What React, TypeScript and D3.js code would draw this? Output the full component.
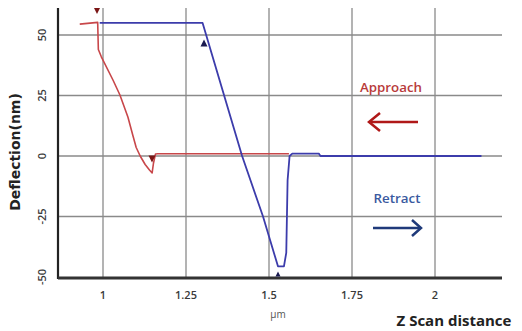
import React from "react";
import * as d3 from "d3";

const xTicks = [1, 1.25, 1.5, 1.75, 2];
const xTickLabels = ["1", "1.25", "1.5", "1.75", "2"];
const yTicks = [-50, -25, 0, 25, 50];
const yTickLabels = ["-50", "-25", "0", "25", "50"];

const approachX = [0.93, 0.984, 0.986, 0.995, 1.03, 1.051, 1.075, 1.09, 1.1, 1.112, 1.127, 1.14, 1.148, 1.152, 1.158, 1.165, 1.56];
const approachY = [54.5, 55.2, 44, 41, 31.4, 25.2, 16.1, 8.5, 3.5, 0, -3.5, -5.8, -7, -3, 0.8, 0.9, 0.9];

const retractX = [0.99, 1.3, 1.419, 1.482, 1.527, 1.545, 1.552, 1.556, 1.562, 1.57, 1.65, 1.655, 2.14];
const retractY = [55, 55, 0, -25, -45.6, -45.6, -40, -10, 0, 1, 1, 0, 0];

const W = 522;
const H = 331;
const left = 58, right = 502, top = 8, bottom = 278;

export default function App() {
  const x = d3.scaleLinear().domain([1, 1.25]).range([103, 186]);
  const y = d3.scaleLinear().domain([0, 50]).range([156, 35]);
  const line = d3.line<[number, number]>().x((d) => x(d[0])).y((d) => y(d[1]));
  const approach = approachX.map((v, i) => [v, approachY[i]] as [number, number]);
  const retract = retractX.map((v, i) => [v, retractY[i]] as [number, number]);
  const red = "#c8474a";
  const blue = "#3c3cab";
  const tri = (cx: number, cy: number, up: boolean, s = 4) =>
    up
      ? `M${cx - s},${cy + s} L${cx + s},${cy + s} L${cx},${cy - s} Z`
      : `M${cx - s},${cy - s} L${cx + s},${cy - s} L${cx},${cy + s} Z`;
  const tickFont = "'Open Sans', sans-serif";
  return (
    <svg width={W} height={H} style={{ position: "absolute", left: 0, top: 0, background: "#fff" }}>
      {xTicks.map((t) => (
        <line key={"gx" + t} x1={x(t)} x2={x(t)} y1={top} y2={bottom} stroke="#8a8a8a" strokeWidth={1.3} />
      ))}
      {yTicks.filter((t) => t > -50).map((t) => (
        <line key={"gy" + t} x1={left} x2={right} y1={y(t)} y2={y(t)} stroke="#8a8a8a" strokeWidth={1.3} />
      ))}
      <line x1={left} x2={left} y1={top} y2={bottom + 1} stroke="#222" strokeWidth={2.2} />
      <line x1={left} x2={right} y1={bottom} y2={bottom} stroke="#333" strokeWidth={3} />
      {xTicks.map((t, i) => (
        <text key={"tx" + t} x={x(t)} y={299} textAnchor="middle" fontFamily={tickFont} fontWeight={600} fontSize={11} fill="#3a3a3a">
          {xTickLabels[i]}
        </text>
      ))}
      {yTicks.map((t, i) => (
        <text key={"ty" + t} transform={`translate(46,${y(t)}) rotate(-90)`} textAnchor="middle" fontFamily={tickFont} fontWeight={600} fontSize={11} fill="#3a3a3a">
          {yTickLabels[i]}
        </text>
      ))}
      <text x={278} y={318} textAnchor="middle" fontFamily={tickFont} fontSize={10} fill="#555">µm</text>
      <text x={454} y={326} textAnchor="middle" fontFamily="'Open Sans', sans-serif" fontWeight="bold" fontSize={15} fill="#222">Z Scan distance</text>
      <text transform={`translate(20,152) rotate(-90)`} textAnchor="middle" fontFamily="'DejaVu Sans', sans-serif" fontWeight="bold" fontSize={14} fill="#222">Deflection(nm)</text>
      <path d={line(approach) || ""} fill="none" stroke={red} strokeWidth={1.6} strokeLinejoin="round" />
      <path d={line(retract) || ""} fill="none" stroke={blue} strokeWidth={1.8} strokeLinejoin="round" />
      <path d={tri(97, 11, false, 3)} fill="#7a1515" />
      <path d={tri(152, 159, false, 3.5)} fill="#7a1515" />
      <path d={tri(204, 43, true, 3.5)} fill="#1a1a50" />
      <path d={tri(278, 274, true, 2.5)} fill="#1a1a50" />
      <text x={391} y={92} textAnchor="middle" fontFamily="'Open Sans', sans-serif" fontWeight={600} fontSize={13} fill="#b83a3a" textLength={62} lengthAdjust="spacingAndGlyphs">Approach</text>
      <line x1={371} x2={418} y1={122} y2={122} stroke="#b01818" strokeWidth={2.5} />
      <path d="M380,113 L369,122 L380,131" fill="none" stroke="#b01818" strokeWidth={2.5} />
      <text x={397} y={203} textAnchor="middle" fontFamily="'Open Sans', sans-serif" fontWeight={600} fontSize={13} fill="#3a5aa0" textLength={47} lengthAdjust="spacingAndGlyphs">Retract</text>
      <line x1={373} x2={420} y1={228} y2={228} stroke="#1f3a7a" strokeWidth={2.5} />
      <path d="M412,220 L421,228 L412,236" fill="none" stroke="#1f3a7a" strokeWidth={2.5} />
    </svg>
  );
}
